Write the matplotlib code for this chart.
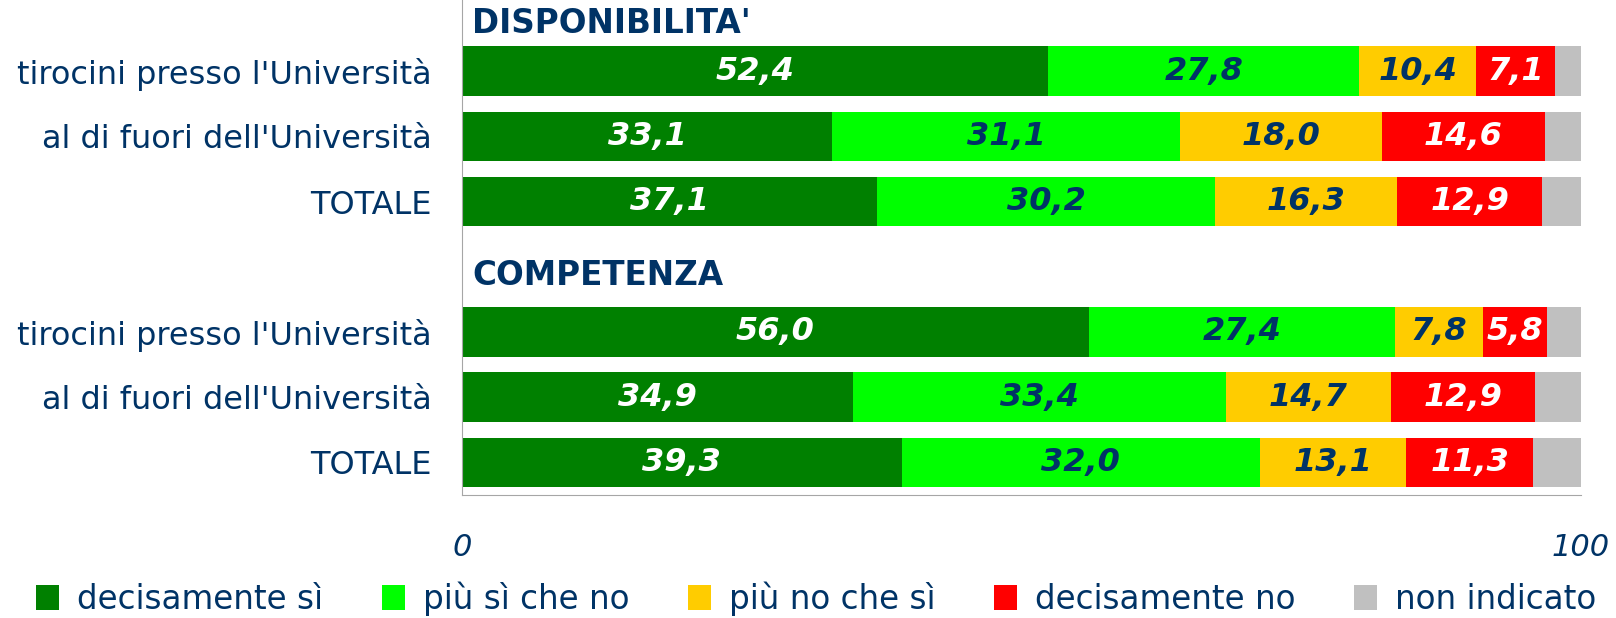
import matplotlib.pyplot as plt
from matplotlib.patches import Patch

NAVY = "#003366"

# rows (top to bottom), with section headers
row_labels = [
    "tirocini presso l'Università",
    "al di fuori dell'Università",
    "TOTALE",
    "tirocini presso l'Università",
    "al di fuori dell'Università",
    "TOTALE",
]
row_pos = [0, 1, 2, 4, 5, 6]
headers = ["DISPONIBILITA'", "COMPETENZA"]
header_pos = [-0.73, 3.13]

categories = ["decisamente sì", "più sì che no", "più no che sì", "decisamente no", "non indicato"]
colors = ["#008000", "#00FF00", "#FFCC00", "#FF0000", "#C0C0C0"]
text_colors = ["white", NAVY, NAVY, "white", None]

decisamente_si = [52.4, 33.1, 37.1, 56.0, 34.9, 39.3]
piu_si = [27.8, 31.1, 30.2, 27.4, 33.4, 32.0]
piu_no = [10.4, 18.0, 16.3, 7.8, 14.7, 13.1]
decisamente_no = [7.1, 14.6, 12.9, 5.8, 12.9, 11.3]
non_indicato = [2.3, 3.2, 3.5, 3.0, 4.1, 4.3]

series = [decisamente_si, piu_si, piu_no, decisamente_no, non_indicato]

fig = plt.figure(figsize=(16.16, 6.18), dpi=100)
ax = fig.add_axes([462 / 1616, 1 - 495 / 618, (1581 - 462) / 1616, 495 / 618])

left = [0.0] * len(row_pos)
for vals, col, tcol in zip(series, colors, text_colors):
    ax.barh(row_pos, vals, left=left, height=0.76, color=col, edgecolor="none")
    if tcol is not None:
        for y, l, v in zip(row_pos, left, vals):
            ax.text(l + v / 2, y, f"{v:.1f}".replace(".", ","), ha="center", va="center",
                    color=tcol, fontsize=23, fontweight="bold", fontstyle="italic")
    left = [a + b for a, b in zip(left, vals)]

for h, y in zip(headers, header_pos):
    ax.text(0.9, y, h, ha="left", va="center", color=NAVY, fontsize=23.5, fontweight="bold")

ax.set_xlim(0, 100)
ax.set_ylim(6.5, -1.09)
ax.set_yticks(row_pos)
ax.set_yticklabels(row_labels, color=NAVY, fontsize=23)
ax.set_xticks([0, 100])
ax.set_xticklabels(["0", "100"], color=NAVY, fontsize=22, fontstyle="italic")
ax.tick_params(axis="y", length=0, pad=22)
ax.tick_params(axis="x", length=0, pad=27)

for s in ["top", "right"]:
    ax.spines[s].set_visible(False)
ax.spines["left"].set_color("#A6A6A6")
ax.spines["bottom"].set_color("#A6A6A6")

handles = [Patch(facecolor=c, edgecolor="none") for c in colors]
fig.legend(handles, categories, ncol=5, loc="center", bbox_to_anchor=(0.505, 1 - 599 / 618),
           frameon=False, fontsize=23.5, labelcolor=NAVY, handlelength=0.7, handleheight=0.8,
           handletextpad=0.55, columnspacing=1.8)

fig.savefig("out.png", dpi=100)
